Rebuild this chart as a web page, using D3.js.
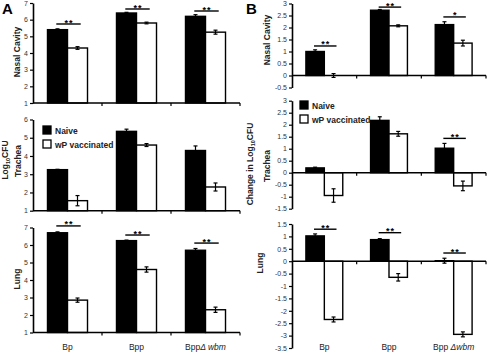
<!DOCTYPE html>
<html><head><meta charset="utf-8">
<script src="https://cdn.jsdelivr.net/npm/d3@7"></script>
<style>body{margin:0;background:#fff} svg{display:block} text{font-family:"Liberation Sans",Arial,sans-serif}</style>
</head><body><svg id="c" width="491" height="357"></svg>
<script>
const categories = ["Bp","Bpp","BppΔwbm"];
const seriesNames = ["Naive","wP vaccinated"];

// Panel A: log10 CFU
const aNasalNaive = [5.4, 6.4, 6.2];
const aNasalNaiveErr = [0.05, 0.04, 0.1];
const aNasalVacc = [4.3, 5.8, 5.25];
const aNasalVaccErr = [0.08, 0.05, 0.12];
const aNasalSig = ["**","**","**"];
const aNasalSigLevel = [5.74, 6.64, 6.52];
const aNasalTicks = [1,2,3,4,5,6,7];

const aTracheaNaive = [3.25, 5.35, 4.3];
const aTracheaNaiveErr = [0.02, 0.12, 0.25];
const aTracheaVacc = [1.55, 4.6, 2.3];
const aTracheaVaccErr = [0.28, 0.08, 0.22];
const aTracheaSig = ["","",""];
const aTracheaSigLevel = [0,0,0];
const aTracheaTicks = [1,2,3,4,5,6];

const aLungNaive = [6.7, 6.25, 5.7];
const aLungNaiveErr = [0.05, 0.03, 0.1];
const aLungVacc = [2.85, 4.6, 2.3];
const aLungVaccErr = [0.12, 0.15, 0.15];
const aLungSig = ["**","**","**"];
const aLungSigLevel = [7.09, 6.57, 6.11];
const aLungTicks = [1,2,3,4,5,6,7];

// Panel B: change in log10 CFU
const bNasalNaive = [1.0, 2.72, 2.12];
const bNasalNaiveErr = [0.07, 0.03, 0.12];
const bNasalVacc = [0.0, 2.07, 1.35];
const bNasalVaccErr = [0.08, 0.04, 0.12];
const bNasalSig = ["**","**","*"];
const bNasalSigLevel = [1.23, 2.85, 2.44];
const bNasalTicks = [-0.5,0,0.5,1,1.5,2,2.5,3];

const bTracheaNaive = [0.2, 2.18, 1.02];
const bTracheaNaiveErr = [0.03, 0.15, 0.2];
const bTracheaVacc = [-0.95, 1.62, -0.55];
const bTracheaVaccErr = [0.28, 0.1, 0.2];
const bTracheaSig = ["","","**"];
const bTracheaSigLevel = [0, 0, 1.43];
const bTracheaTicks = [-1.5,-1,-0.5,0,0.5,1,1.5,2,2.5,3];

const bLungNaive = [1.02, 0.87, 0.02];
const bLungNaiveErr = [0.08, 0.04, 0.1];
const bLungVacc = [-2.35, -0.65, -2.95];
const bLungVaccErr = [0.1, 0.15, 0.1];
const bLungSig = ["**","**","**"];
const bLungSigLevel = [1.29, 1.15, 0.33];
const bLungTicks = [-3.5,-3,-2.5,-2,-1.5,-1,-0.5,0,0.5,1,1.5];

const svg = d3.select("#c");
const fmt = d => String(d).replace("\u2212","-");

function panel(cfg){
  const g = svg.append("g");
  const y = d3.scaleLinear().domain(d3.extent(cfg.ticks)).range(cfg.yRange);
  const x = d3.scaleBand().domain(categories).range(cfg.xRange);
  const bw = x.bandwidth(), gw = bw*cfg.groupFrac;
  const sub = d3.scaleBand().domain(seriesNames).range([(bw-gw)/2,(bw+gw)/2]);
  const y0 = y(cfg.base);
  const series = [
    {name:seriesNames[0], vals:cfg.naive, errs:cfg.naiveErr, fill:"#000"},
    {name:seriesNames[1], vals:cfg.vacc, errs:cfg.vaccErr, fill:"#fff"}
  ];
  series.forEach(s=>{
    categories.forEach((c,i)=>{
      const v = s.vals[i], yv = y(v);
      g.append("rect").attr("x", x(c)+sub(s.name)).attr("width", sub.bandwidth())
        .attr("y", Math.min(yv,y0)).attr("height", Math.abs(yv-y0))
        .attr("fill", s.fill).attr("stroke","#000").attr("stroke-width",1.4);
    });
  });
  const ya = d3.axisLeft(y).tickValues(cfg.ticks).tickSize(3).tickSizeOuter(0).tickFormat(fmt);
  const yg = g.append("g").attr("transform",`translate(${cfg.xRange[0]},0)`).call(ya);
  yg.select(".domain").attr("stroke-width",1.6);
  yg.selectAll(".tick line").attr("stroke-width",1.2);
  yg.selectAll(".tick text").attr("font-size",7).attr("fill","#333").attr("x",-5);
  g.append("line").attr("x1",cfg.xRange[0]).attr("x2",cfg.xRange[1]).attr("y1",y0).attr("y2",y0)
    .attr("stroke","#000").attr("stroke-width",1.6);
  categories.forEach(c=>{
    const xx = x(c)+bw;
    g.append("line").attr("x1",xx).attr("x2",xx).attr("y1",y0).attr("y2",y0+3).attr("stroke","#000").attr("stroke-width",1.2);
  });
  series.forEach(s=>{
    categories.forEach((c,i)=>{
      const cx = x(c)+sub(s.name)+sub.bandwidth()/2;
      const lo = y(s.vals[i]-s.errs[i]), hi = y(s.vals[i]+s.errs[i]);
      g.append("line").attr("x1",cx).attr("x2",cx).attr("y1",lo).attr("y2",hi).attr("stroke","#000").attr("stroke-width",1.2);
      [lo,hi].forEach(yy=>g.append("line").attr("x1",cx-2).attr("x2",cx+2).attr("y1",yy).attr("y2",yy).attr("stroke","#000").attr("stroke-width",1.2));
    });
  });
  categories.forEach((c,i)=>{
    if(!cfg.sig[i]) return;
    const cx = x(c)+bw/2, ly = y(cfg.sigLevel[i]);
    g.append("line").attr("x1",cx-gw*0.28).attr("x2",cx+gw*0.33).attr("y1",ly).attr("y2",ly)
      .attr("stroke","#000").attr("stroke-width",1.4);
    g.append("text").attr("x",cx+gw*0.04).attr("y",ly+1.5).attr("text-anchor","middle")
      .attr("font-size",9).attr("font-weight","bold").attr("letter-spacing",1).text(cfg.sig[i]);
  });
  return {x,y};
}

const A_X = [33,240], B_X = [292,486];
const pa1 = panel({ticks:aNasalTicks, yRange:[103,3], xRange:A_X, groupFrac:0.58, base:1,
  naive:aNasalNaive, naiveErr:aNasalNaiveErr, vacc:aNasalVacc, vaccErr:aNasalVaccErr, sig:aNasalSig, sigLevel:aNasalSigLevel});
const pa2 = panel({ticks:aTracheaTicks, yRange:[210.7,119.5], xRange:A_X, groupFrac:0.58, base:1,
  naive:aTracheaNaive, naiveErr:aTracheaNaiveErr, vacc:aTracheaVacc, vaccErr:aTracheaVaccErr, sig:aTracheaSig, sigLevel:aTracheaSigLevel});
const pa3 = panel({ticks:aLungTicks, yRange:[332.5,227.5], xRange:A_X, groupFrac:0.58, base:1,
  naive:aLungNaive, naiveErr:aLungNaiveErr, vacc:aLungVacc, vaccErr:aLungVaccErr, sig:aLungSig, sigLevel:aLungSigLevel});
const pb1 = panel({ticks:bNasalTicks, yRange:[87.5,3.5], xRange:B_X, groupFrac:0.57, base:0,
  naive:bNasalNaive, naiveErr:bNasalNaiveErr, vacc:bNasalVacc, vaccErr:bNasalVaccErr, sig:bNasalSig, sigLevel:bNasalSigLevel});
const pb2 = panel({ticks:bTracheaTicks, yRange:[208.7,100.7], xRange:B_X, groupFrac:0.57, base:0,
  naive:bTracheaNaive, naiveErr:bTracheaNaiveErr, vacc:bTracheaVacc, vaccErr:bTracheaVaccErr, sig:bTracheaSig, sigLevel:bTracheaSigLevel});
const pb3 = panel({ticks:bLungTicks, yRange:[348,224], xRange:B_X, groupFrac:0.57, base:0,
  naive:bLungNaive, naiveErr:bLungNaiveErr, vacc:bLungVacc, vaccErr:bLungVaccErr, sig:bLungSig, sigLevel:bLungSigLevel});

svg.append("text").attr("x",2).attr("y",14).attr("font-size",15).attr("font-weight","bold").text("A");
svg.append("text").attr("x",246).attr("y",14).attr("font-size",15).attr("font-weight","bold").text("B");

function catLabels(p, sep){
  categories.forEach(c=>{
    const t = svg.append("text").attr("x",p.x(c)+p.x.bandwidth()/2).attr("y",350)
      .attr("text-anchor","middle").attr("font-size",8.5).attr("fill","#222");
    if(c.includes("Δ")){
      t.append("tspan").text("Bpp"+sep);
      t.append("tspan").attr("font-style","italic").text("Δ"+(sep?"":" ")+"wbm");
    } else t.text(c);
  });
}
catLabels(pa3, "");
catLabels(pb3, " ");

function ylab(x, y, parts, size){
  const t = svg.append("text").attr("transform",`translate(${x},${y}) rotate(-90)`)
    .attr("text-anchor","middle").attr("font-size",size||8.5).attr("font-weight","bold").attr("fill","#222");
  parts.forEach(p=>{
    const s = t.append("tspan").text(p.t);
    if(p.sub){ s.attr("font-size",(size||8.5)*0.65).attr("dy",2); }
    if(p.back){ s.attr("dy",-2); }
  });
}
ylab(20, 52, [{t:"Nasal Cavity"}]);
ylab(8, 160, [{t:"Log"},{t:"10",sub:true},{t:"CFU",back:true}]);
ylab(21, 161, [{t:"Trachea"}]);
ylab(20, 279, [{t:"Lung"}]);
ylab(270, 40, [{t:"Nasal Cavity"}]);
ylab(253, 164, [{t:"Change in Log"},{t:"10",sub:true},{t:"CFU",back:true}]);
ylab(270, 166, [{t:"Trachea"}]);
ylab(263, 263, [{t:"Lung"}]);

function legend(x, y){
  seriesNames.forEach((n,i)=>{
    svg.append("rect").attr("x",x).attr("y",y+i*14).attr("width",8).attr("height",8)
      .attr("fill", i===0?"#000":"#fff").attr("stroke","#000").attr("stroke-width",1.3);
    svg.append("text").attr("x",x+12).attr("y",y+i*14+7.5).attr("font-size",8.5).attr("font-weight","bold").attr("fill","#222").text(n);
  });
}
legend(43, 126);
legend(300, 101);
</script></body></html>
